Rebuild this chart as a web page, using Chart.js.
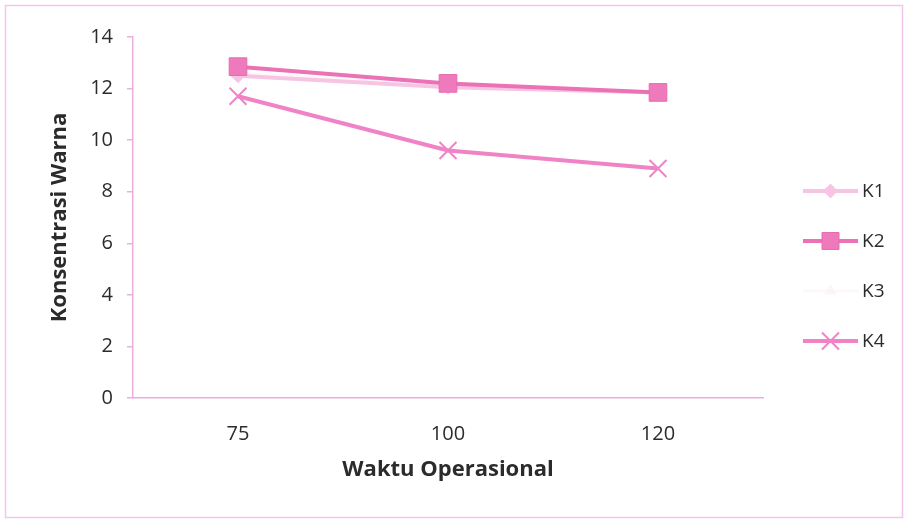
<!DOCTYPE html>
<html>
<head>
<meta charset="utf-8">
<script src="https://cdn.jsdelivr.net/npm/chart.js@4"></script>
<style>
  html, body { margin: 0; padding: 0; background: #fff; }
  #wrap { position: relative; width: 905px; height: 521px; }
</style>
</head>
<body>
<div id="wrap"><canvas id="chart" width="905" height="521"></canvas></div>
<script>
// Waktu operasional (x) vs konsentrasi warna (y)
const waktu = ['75', '100', '120'];
const k1 = [12.5, 12.05, 11.85];
const k2 = [12.85, 12.2, 11.85];
const k3 = [12.6, 12.15, 11.85];
const k4 = [11.7, 9.6, 8.9];
const yTicks = [0, 2, 4, 6, 8, 10, 12, 14];

const FONT = '"Open Sans", Lato, sans-serif';
const AXIS_COLOR = '#e9b0de';
const TEXT_COLOR = '#2b2b2b';

// legend drawn as line + marker, like the spreadsheet one
const lineLegend = {
    id: 'lineLegend',
    afterDraw(chart) {
        const ctx = chart.ctx;
        const x0 = 803, x1 = 858, top = 191, gap = 50;
        chart.data.datasets.forEach((ds, i) => {
            const y = top + i * gap;
            ctx.save();
            ctx.strokeStyle = ds.borderColor;
            ctx.lineWidth = ds.borderWidth;
            ctx.beginPath();
            ctx.moveTo(x0, y);
            ctx.lineTo(x1, y);
            ctx.stroke();
            ctx.fillStyle = ds.pointBackgroundColor;
            ctx.strokeStyle = ds.pointBorderColor;
            ctx.lineWidth = ds.pointBorderWidth;
            Chart.helpers.drawPoint(ctx, {
                pointStyle: ds.pointStyle,
                radius: ds.legendRadius || ds.pointRadius,
                rotation: 0,
                borderWidth: ds.pointBorderWidth
            }, (x0 + x1) / 2, y);
            ctx.fillStyle = TEXT_COLOR;
            ctx.font = '19px ' + FONT;
            ctx.textBaseline = 'middle';
            ctx.fillText(ds.label, 862, y + 1);
            ctx.restore();
        });
    }
};

// thin pink frame round the whole chart
const frame = {
    id: 'frame',
    beforeDraw(chart) {
        const ctx = chart.ctx;
        ctx.save();
        ctx.strokeStyle = '#f1c6ec';
        ctx.lineWidth = 1.5;
        ctx.strokeRect(5.5, 5.5, 897, 512);
        ctx.restore();
    }
};

new Chart(document.getElementById('chart'), {
    type: 'line',
    data: {
        labels: waktu,
        datasets: [
            {
                label: 'K1', data: k1, order: 2,
                borderColor: '#f8c4e4', borderWidth: 4,
                pointStyle: 'rectRot', pointRadius: 7,
                pointBackgroundColor: '#f8c4e4', pointBorderColor: '#f8c4e4', pointBorderWidth: 1
            },
            {
                label: 'K2', data: k2, order: 0,
                borderColor: '#ec72b6', borderWidth: 4,
                pointStyle: 'rect', pointRadius: 12.5, legendRadius: 12,
                pointBackgroundColor: '#ee7abb', pointBorderColor: '#e86cb1', pointBorderWidth: 1
            },
            {
                label: 'K3', data: k3, order: 3,
                borderColor: 'rgba(250,240,246,0.5)', borderWidth: 3,
                pointStyle: 'triangle', pointRadius: 6,
                pointBackgroundColor: 'rgba(250,240,246,0.5)', pointBorderColor: 'rgba(250,240,246,0.5)', pointBorderWidth: 1
            },
            {
                label: 'K4', data: k4, order: 1,
                borderColor: '#f083c6', borderWidth: 4,
                pointStyle: 'crossRot', pointRadius: 12,
                pointBackgroundColor: '#f083c6', pointBorderColor: '#f083c6', pointBorderWidth: 2
            }
        ]
    },
    options: {
        responsive: false,
        animation: false,
        layout: { padding: { top: 37, right: 142, left: 0, bottom: 0 } },
        plugins: {
            legend: { display: false },
            tooltip: { enabled: false }
        },
        elements: { line: { tension: 0 } },
        scales: {
            x: {
                offset: true,
                grid: { display: false, drawTicks: false },
                border: { display: true, color: AXIS_COLOR, width: 1.5 },
                ticks: { color: TEXT_COLOR, font: { family: FONT, size: 20 }, padding: 24 },
                title: {
                    display: true, text: 'Waktu Operasional', color: TEXT_COLOR,
                    font: { family: FONT, size: 22, weight: 'bold' },
                    padding: { top: 0, bottom: 38 }
                },
                afterFit(scale) { scale.height = 123; }
            },
            y: {
                min: 0, max: 14,
                afterBuildTicks(scale) { scale.ticks = yTicks.map(v => ({ value: v })); },
                grid: { drawOnChartArea: false, drawTicks: true, tickLength: 6, color: AXIS_COLOR, lineWidth: 1.5 },
                border: { display: true, color: AXIS_COLOR, width: 1.5 },
                ticks: { color: TEXT_COLOR, font: { family: FONT, size: 20 }, padding: 14 },
                title: {
                    display: true, text: 'Konsentrasi Warna', color: TEXT_COLOR,
                    font: { family: FONT, size: 22, weight: 'bold' },
                    padding: { top: 47, bottom: 0 }
                },
                afterFit(scale) { scale.width = 133; }
            }
        }
    },
    plugins: [frame, lineLegend]
});
</script>
</body>
</html>
